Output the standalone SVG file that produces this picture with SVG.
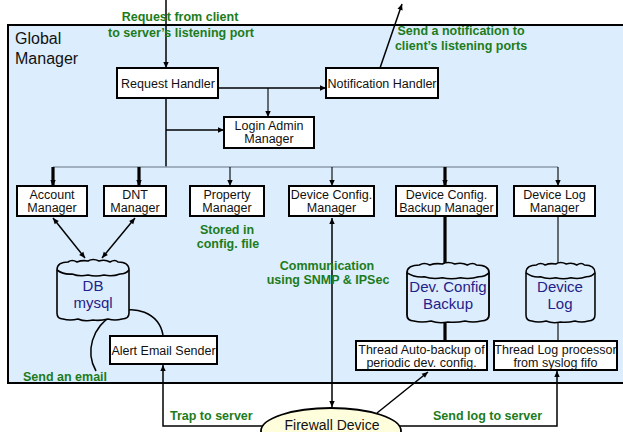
<svg xmlns="http://www.w3.org/2000/svg" xmlns:xlink="http://www.w3.org/1999/xlink" width="623" height="432" viewBox="0 0 623 432">
<style>
  text { font-family: "Liberation Sans", Arial, sans-serif; }
  .box { fill: #ffffff; stroke: #000; stroke-width: 2; }
  .t { font-size: 12.5px; fill: #111; text-anchor: middle; }
  .g { font-size: 12.5px; font-weight: bold; fill: #1c7c1c; }
  .c { font-size: 15px; fill: #1f2288; text-anchor: middle; }
  .ln { fill: none; stroke: #000; stroke-width: 1.5; }
  .thin { fill: none; stroke: #000; stroke-width: 1.1; }
  .thick { fill: none; stroke: #000; stroke-width: 3.2; }
  .cyl { fill: #dcedfd; stroke: #000; stroke-width: 1.6; stroke-linejoin: round; vector-effect: non-scaling-stroke; }
  .lid { fill: none; stroke: #000; stroke-width: 1.6; vector-effect: non-scaling-stroke; }
</style>
<defs>
  <marker id="ah" viewBox="0 0 10 10" refX="10" refY="5" markerWidth="7" markerHeight="6" markerUnits="userSpaceOnUse" orient="auto-start-reverse">
    <path d="M0,0.5 L10,5 L0,9.5 z" fill="#000"/>
  </marker>
  <path id="cylBody" d="M0,10 C0,4 5,2 11,2 Q15,-1 20,2 Q25,0 31,1 Q36,-2 42,1 Q48,-1 53,2 Q58,-1 61,2 C67,2 72,4 72,10 L72,53 C72,57 70,59 65,59 Q58,61 51,59 Q43,61 36,60 Q28,62 21,59 Q13,61 6,59 C2,59 0,57 0,53 Z"/>
  <path id="cylLid" d="M0,10 Q7,15 15,14 Q23,17 31,15 Q39,17 47,15 Q55,17 63,14 Q69,14 72,10"/>
</defs>

<!-- Global Manager container -->
<g id="global-manager">
  <rect x="8" y="25" width="700" height="358" fill="#dcedfd" stroke="#000" stroke-width="2"/>
  <text x="15" y="44" font-size="16" fill="#111">Global</text>
  <text x="15" y="64" font-size="16" fill="#111">Manager</text>
</g>

<!-- connectors -->
<g id="connectors">
  <path class="ln" d="M166,0 L166,68" marker-end="url(#ah)"/>
  <path class="ln" d="M380,68 L402,4" marker-end="url(#ah)"/>
  <path class="ln" d="M218,88 L326,88" marker-end="url(#ah)"/>
  <path class="thin" d="M268,88 L268,117" marker-end="url(#ah)"/>
  <path class="ln" d="M166,98 L166,167"/>
  <path class="ln" d="M166,130 L224,130" marker-end="url(#ah)"/>
  <path d="M53,167 L558,167" fill="none" stroke="#8d9bab" stroke-width="1.5"/>
  <path class="thick" d="M53,167 L53,186" marker-end="url(#ah)"/>
  <path class="thick" d="M139,167 L139,186" marker-end="url(#ah)"/>
  <path class="thin" d="M230,167 L230,186" marker-end="url(#ah)"/>
  <path class="thin" d="M332,167 L332,186" marker-end="url(#ah)"/>
  <path class="thick" d="M445,167 L445,186" marker-end="url(#ah)"/>
  <path class="thin" d="M558,167 L558,186" marker-end="url(#ah)"/>
  <path class="ln" d="M53,218 L85,258" marker-start="url(#ah)" marker-end="url(#ah)"/>
  <path class="ln" d="M135,218 L102,258" marker-start="url(#ah)" marker-end="url(#ah)"/>
  <path class="ln" d="M332,218 L332,407" marker-start="url(#ah)" marker-end="url(#ah)"/>
  <path class="thick" d="M445,216 L445,263"/>
  <path class="thick" d="M445,321 L445,341"/>
  <path class="thin" d="M558,216 L558,263"/>
  <path class="thin" d="M558,321 L558,341"/>
  <path class="ln" d="M163,335 C159,313 134,303 113,315 C92,327 85,352 96,371"/>
  <path class="ln" d="M263,426 L163,426 L163,365" marker-end="url(#ah)"/>
  <path class="ln" d="M399,426 L557,426 L557,371" marker-end="url(#ah)"/>
  <path class="ln" d="M377,413 L428,372" marker-end="url(#ah)"/>
</g>

<!-- labels -->
<g id="labels">
  <text class="g" x="180" y="21" text-anchor="middle">Request from client</text>
  <text class="g" x="181" y="37" text-anchor="middle">to server’s listening port</text>
  <text class="g" x="461" y="35" text-anchor="middle">Send a notification to</text>
  <text class="g" x="461" y="50" text-anchor="middle">client’s listening ports</text>
  <text class="g" x="227" y="234" text-anchor="middle">Stored in</text>
  <text class="g" x="228" y="248" text-anchor="middle">config. file</text>
  <text class="g" x="327" y="270" text-anchor="middle">Communication</text>
  <text class="g" x="328" y="284" text-anchor="middle">using SNMP &amp; IPSec</text>
  <text class="g" x="23" y="381">Send an email</text>
  <text class="g" x="170" y="420">Trap to server</text>
  <text class="g" x="433" y="420">Send log to server</text>
</g>

<g id="request-handler">
  <rect class="box" x="117" y="68" width="101" height="30"/>
  <text class="t" x="168" y="88">Request Handler</text>
</g>
<g id="notification-handler">
  <rect class="box" x="326" y="68" width="112" height="30"/>
  <text class="t" x="382" y="88">Notification Handler</text>
</g>
<g id="login-admin-manager">
  <rect class="box" x="224" y="117" width="90" height="31"/>
  <text class="t" x="269" y="130">Login Admin</text>
  <text class="t" x="269" y="143">Manager</text>
</g>
<g id="account-manager">
  <rect class="box" x="17" y="186" width="70" height="30"/>
  <text class="t" x="52" y="199">Account</text>
  <text class="t" x="52" y="212">Manager</text>
</g>
<g id="dnt-manager">
  <rect class="box" x="104" y="186" width="62" height="30"/>
  <text class="t" x="135" y="199">DNT</text>
  <text class="t" x="135" y="212">Manager</text>
</g>
<g id="property-manager">
  <rect class="box" x="190" y="186" width="74" height="30"/>
  <text class="t" x="227" y="199">Property</text>
  <text class="t" x="227" y="212">Manager</text>
</g>
<g id="device-config-manager">
  <rect class="box" x="289" y="186" width="85" height="30"/>
  <text class="t" x="331.5" y="199">Device Config.</text>
  <text class="t" x="331.5" y="212">Manager</text>
</g>
<g id="device-config-backup-manager">
  <rect class="box" x="396" y="186" width="101" height="30"/>
  <text class="t" x="446.5" y="199">Device Config.</text>
  <text class="t" x="446.5" y="212">Backup Manager</text>
</g>
<g id="device-log-manager">
  <rect class="box" x="514" y="186" width="81" height="30"/>
  <text class="t" x="554.5" y="199">Device Log</text>
  <text class="t" x="554.5" y="212">Manager</text>
</g>

<g id="db-mysql">
  <g transform="translate(57,260)">
    <use xlink:href="#cylBody" href="#cylBody" class="cyl"/>
    <use xlink:href="#cylLid" href="#cylLid" class="lid"/>
  </g>
  <text class="c" x="93" y="291">DB</text>
  <text class="c" x="93" y="308">mysql</text>
</g>
<g id="dev-config-backup">
  <g transform="translate(407,263) scale(1.139,0.983)">
    <use xlink:href="#cylBody" href="#cylBody" class="cyl"/>
    <use xlink:href="#cylLid" href="#cylLid" class="lid"/>
  </g>
  <text class="c" x="448" y="292">Dev. Config</text>
  <text class="c" x="448" y="309">Backup</text>
</g>
<g id="device-log">
  <g transform="translate(526,263) scale(0.958,0.983)">
    <use xlink:href="#cylBody" href="#cylBody" class="cyl"/>
    <use xlink:href="#cylLid" href="#cylLid" class="lid"/>
  </g>
  <text class="c" x="560" y="292">Device</text>
  <text class="c" x="560" y="309">Log</text>
</g>

<g id="alert-email-sender">
  <rect class="box" x="110" y="336" width="107" height="28"/>
  <text class="t" x="163.5" y="354.5">Alert Email Sender</text>
</g>
<g id="thread-auto-backup">
  <rect class="box" x="356" y="341" width="131" height="29"/>
  <text class="t" x="421.5" y="354">Thread Auto-backup of</text>
  <text class="t" x="421.5" y="366.5">periodic dev. config.</text>
</g>
<g id="thread-log-processor">
  <rect class="box" x="494" y="341" width="123" height="29"/>
  <text class="t" x="555.5" y="354">Thread Log processor</text>
  <text class="t" x="555.5" y="366.5">from syslog fifo</text>
</g>
<g id="firewall-device">
  <ellipse cx="331" cy="431" rx="70" ry="23" fill="#fefedd" stroke="#000" stroke-width="1.8"/>
  <text x="332" y="430" font-size="14" fill="#111" text-anchor="middle">Firewall Device</text>
</g>
</svg>
